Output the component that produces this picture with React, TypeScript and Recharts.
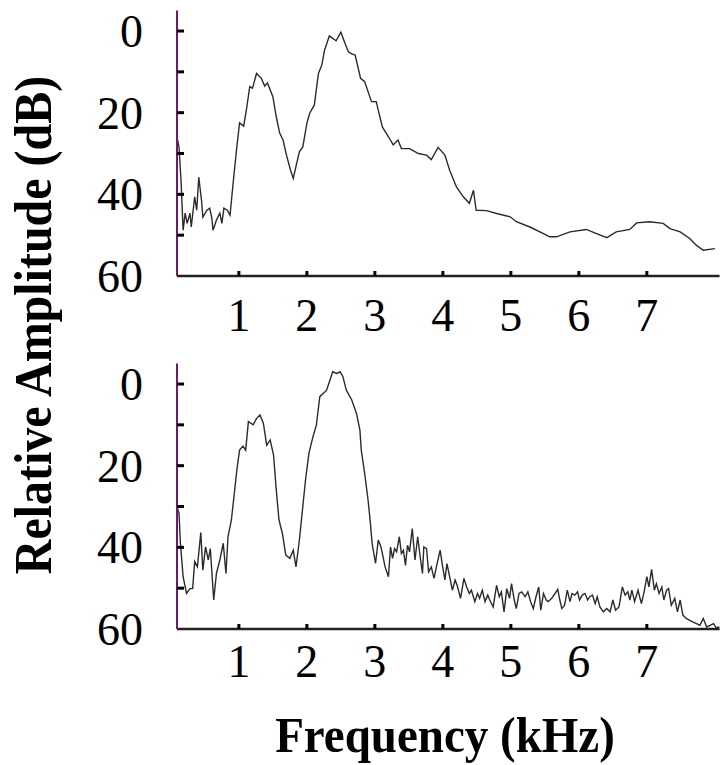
import { LineChart, Line, XAxis, YAxis } from 'recharts'

// frequency in kHz, amplitude in dB below peak (0 at top)
const freqTop = [0.09, 0.12, 0.15, 0.18, 0.21, 0.24, 0.28, 0.3, 0.35, 0.38, 0.41, 0.45, 0.47, 0.53, 0.57, 0.6, 0.62, 0.67, 0.72, 0.75, 0.78, 0.83, 0.87, 0.92, 0.97, 1.01, 1.07, 1.11, 1.16, 1.2, 1.26, 1.33, 1.38, 1.42, 1.5, 1.55, 1.6, 1.65, 1.7, 1.76, 1.8, 1.85, 1.89, 1.94, 2.0, 2.04, 2.11, 2.17, 2.22, 2.26, 2.33, 2.38, 2.43, 2.5, 2.56, 2.61, 2.66, 2.71, 2.79, 2.85, 2.95, 3.02, 3.11, 3.2, 3.27, 3.34, 3.39, 3.51, 3.64, 3.76, 3.83, 3.93, 4.03, 4.1, 4.2, 4.3, 4.39, 4.45, 4.49, 4.64, 4.79, 4.99, 5.08, 5.28, 5.48, 5.57, 5.67, 5.87, 6.11, 6.26, 6.41, 6.55, 6.75, 6.85, 7.04, 7.24, 7.34, 7.49, 7.63, 7.73, 7.83, 8.0]
const ampTop = [26, 28.4, 36.9, 48.8, 44.6, 47.1, 44.6, 48, 40.6, 43.9, 35.8, 41.4, 45.6, 43.9, 43.4, 45.6, 48.8, 46.3, 44.6, 47.1, 43.4, 43.9, 45.1, 36.5, 28.4, 22.5, 23.3, 19.4, 13.6, 14, 10.4, 11.6, 13.5, 12.7, 16.1, 21, 25, 26.7, 30.4, 34.1, 36.1, 32.4, 29.6, 28.4, 22.6, 20.2, 18.1, 10.4, 8.3, 4.7, 1.2, 1.8, 2.4, 0.3, 3, 5.1, 5.6, 5.9, 11.6, 12.4, 17.3, 17.3, 23.5, 25.9, 27.9, 26.7, 28.8, 28.8, 30, 30.4, 31.5, 28.5, 30.4, 34.1, 38.2, 40.6, 42.2, 39, 43.9, 44, 44.7, 45.5, 46.7, 48, 49.6, 50.4, 50.4, 49.2, 48.6, 49.6, 50.6, 49.2, 48.6, 47, 46.7, 47.1, 48.4, 49.2, 50.8, 52.5, 53.7, 53.3]

const freqBottom = [0.09, 0.12, 0.14, 0.18, 0.23, 0.28, 0.32, 0.35, 0.39, 0.44, 0.47, 0.51, 0.55, 0.58, 0.63, 0.67, 0.72, 0.77, 0.81, 0.84, 0.89, 0.97, 1.01, 1.06, 1.1, 1.14, 1.21, 1.26, 1.31, 1.36, 1.41, 1.46, 1.51, 1.55, 1.59, 1.64, 1.69, 1.75, 1.8, 1.84, 1.89, 1.95, 1.98, 2.03, 2.09, 2.14, 2.19, 2.24, 2.29, 2.34, 2.38, 2.44, 2.49, 2.53, 2.58, 2.66, 2.73, 2.78, 2.8, 2.85, 2.9, 2.93, 2.96, 3.01, 3.05, 3.09, 3.12, 3.15, 3.2, 3.23, 3.26, 3.29, 3.32, 3.36, 3.39, 3.42, 3.45, 3.48, 3.51, 3.55, 3.59, 3.63, 3.66, 3.7, 3.72, 3.76, 3.79, 3.83, 3.87, 3.91, 3.96, 3.99, 4.03, 4.06, 4.09, 4.14, 4.18, 4.21, 4.26, 4.31, 4.35, 4.39, 4.42, 4.47, 4.51, 4.54, 4.58, 4.62, 4.66, 4.69, 4.74, 4.79, 4.83, 4.86, 4.9, 4.94, 4.98, 5.01, 5.05, 5.08, 5.12, 5.16, 5.21, 5.25, 5.29, 5.33, 5.37, 5.41, 5.44, 5.48, 5.52, 5.55, 5.6, 5.65, 5.69, 5.72, 5.75, 5.79, 5.83, 5.87, 5.9, 5.94, 5.98, 6.01, 6.05, 6.09, 6.13, 6.16, 6.2, 6.24, 6.27, 6.31, 6.36, 6.41, 6.46, 6.5, 6.54, 6.59, 6.64, 6.68, 6.72, 6.75, 6.78, 6.82, 6.87, 6.92, 6.96, 7.0, 7.03, 7.07, 7.11, 7.14, 7.18, 7.22, 7.25, 7.29, 7.32, 7.36, 7.41, 7.45, 7.49, 7.53, 7.58, 7.63, 7.68, 7.73, 7.78, 7.83, 7.88, 7.93, 7.98, 8.02, 8.07]
const ampBottom = [30.1, 31.7, 39, 47.2, 51.3, 50.1, 50.1, 43.5, 44.8, 36.4, 45.6, 39.9, 43.1, 40.3, 52.9, 46.4, 43.1, 39, 46.4, 37.4, 33.3, 21.1, 16.2, 15.2, 16.2, 9.2, 10, 8.4, 7.6, 9.6, 15, 13.7, 17.4, 26, 33.3, 36.6, 41.9, 42.7, 40.7, 44.8, 38.2, 28.4, 23.5, 17, 12.9, 10, 3.1, 2.3, 1.5, -1, -3, -2.6, -3, -1.8, 1.5, 3.9, 7.2, 11.3, 16.2, 21.9, 28.4, 33.3, 39.1, 43.9, 38.2, 39.9, 42.3, 44.8, 47.2, 39.9, 42.7, 40.3, 41.1, 37.4, 41.5, 40.7, 44.4, 39.5, 41.1, 35.4, 43.1, 37.4, 41.5, 46.4, 39.9, 40.3, 46, 44.8, 47.6, 44.4, 40.7, 44, 48, 44, 46.4, 50.5, 48, 49.3, 52.5, 47.6, 49.7, 51.3, 50.5, 53.3, 51.3, 52.5, 50.5, 53.3, 51.7, 52.9, 54.6, 49.3, 52.1, 50.9, 55.8, 50.1, 52.5, 48.9, 52.9, 55, 51.3, 50.9, 52.1, 50.9, 53.3, 55, 52.1, 49.7, 55.4, 51.3, 52.9, 53.3, 52.5, 51.3, 50.3, 52.9, 55, 54.2, 50.5, 53.3, 51.3, 51.7, 50.9, 52.9, 51.7, 51.3, 52.9, 52.1, 51.7, 53.8, 52.1, 54.6, 55.8, 55, 55.8, 52.9, 55.4, 54.6, 49.7, 51.7, 50.9, 52.9, 50.5, 53.3, 50.5, 53.8, 50.9, 47.2, 49.7, 45.4, 50.5, 48.9, 51.3, 49.7, 52.9, 50.5, 50.1, 54.2, 52.5, 55.8, 52.9, 56.6, 57.4, 57.9, 58.3, 58.7, 59.1, 57.4, 59.5, 59.1, 58.7, 59.7, 59.5]

const xTicks = [1, 2, 3, 4, 5, 6, 7]
const yTicks = [0, 10, 20, 30, 40, 50, 60]
const yLabels = [0, 20, 40, 60]

const SERIF = '"Liberation Serif", "Times New Roman", serif'

function XTick({ x, y, payload, labelOffset }: any) {
  return (
    <g>
      <line x1={x} y1={y} x2={x} y2={y - 5} stroke="#000" strokeWidth={3} />
      <text x={x} y={y + labelOffset} textAnchor="middle" fontFamily={SERIF} fontSize={46} fill="#000">
        {payload.value}
      </text>
    </g>
  )
}

function YTick({ x, y, payload }: any) {
  const v = payload.value
  return (
    <g>
      {v < 60 && <line x1={x} y1={y} x2={x + 7} y2={y} stroke="#000" strokeWidth={3} />}
      {yLabels.includes(v) && (
        <text x={143} y={y + 16} textAnchor="end" fontFamily={SERIF} fontSize={46} fill="#000">
          {v}
        </text>
      )}
    </g>
  )
}

function Panel({ freq, amp, top, labelOffset }: { freq: number[]; amp: number[]; top: number; labelOffset: number }) {
  const data = freq.map((f, i) => ({ f, a: amp[i] }))
  return (
    <div style={{ position: 'absolute', left: 0, top }}>
      <LineChart width={720} height={360} data={data} margin={{ top: 10.6, right: 0.4, left: 0, bottom: 30 }}>
        <XAxis
          dataKey="f"
          type="number"
          domain={[0.09, 8.07]}
          ticks={xTicks}
          allowDataOverflow
          height={54}
          tickSize={0}
          tickMargin={0}
          axisLine={{ stroke: '#222', strokeWidth: 2.5 }}
          tickLine={false}
          tick={(p: any) => <XTick {...p} labelOffset={labelOffset} />}
          interval={0}
        />
        <YAxis
          type="number"
          domain={[-5, 60]}
          reversed
          ticks={yTicks}
          allowDataOverflow
          width={177}
          tickSize={0}
          tickMargin={0}
          axisLine={{ stroke: '#6e1a6e', strokeWidth: 2 }}
          tickLine={false}
          tick={(p: any) => <YTick {...p} />}
          interval={0}
        />
        <Line
          dataKey="a"
          type="linear"
          stroke="#2b2b2b"
          strokeWidth={1.4}
          dot={false}
          isAnimationActive={false}
        />
      </LineChart>
    </div>
  )
}

export default function App() {
  return (
    <div style={{ position: 'absolute', left: 0, top: 0, width: 720, height: 765, background: '#fff', overflow: 'hidden' }}>
      <Panel freq={freqTop} amp={ampTop} top={0} labelOffset={55} />
      <Panel freq={freqBottom} amp={ampBottom} top={353} labelOffset={48} />
      <svg width={720} height={765} style={{ position: 'absolute', left: 0, top: 0, pointerEvents: 'none' }}>
        <text
          transform="translate(51,325) rotate(-90) scale(1,1.1)"
          textAnchor="middle"
          fontFamily={SERIF}
          fontWeight="bold"
          fontSize={48}
          fill="#000"
        >
          Relative Amplitude (dB)
        </text>
        <text
          transform="translate(445,752) scale(1,1.1)"
          textAnchor="middle"
          fontFamily={SERIF}
          fontWeight="bold"
          fontSize={47}
          fill="#000"
        >
          Frequency (kHz)
        </text>
      </svg>
    </div>
  )
}
